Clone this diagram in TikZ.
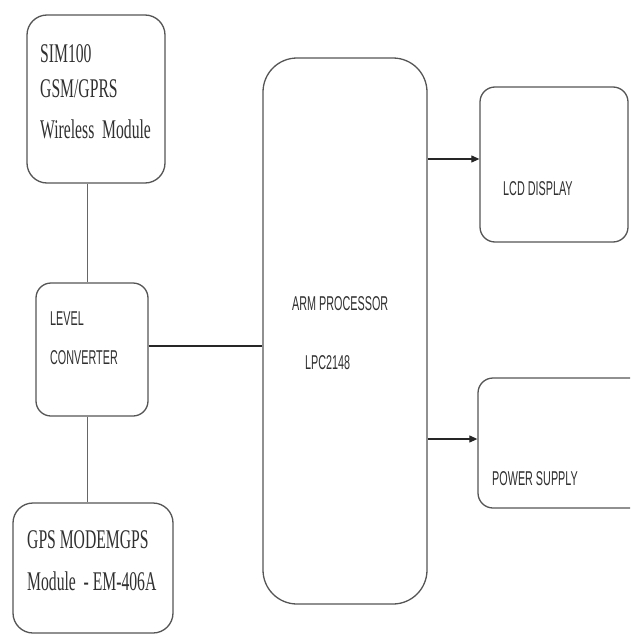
\documentclass[tikz,border=0pt]{standalone}
\usepackage{fontspec}
\newfontfamily\narrowserif[FakeStretch=0.58]{Liberation Serif}
\newfontfamily\narrowsans[FakeStretch=0.54]{Liberation Sans}
\usetikzlibrary{arrows.meta}
\definecolor{edge}{HTML}{555555}
\definecolor{ink}{HTML}{303030}
\tikzset{
  blk/.style={draw=edge, line width=1.3pt, fill=white, inner sep=0pt, rectangle},
  sertxt/.style={anchor=base west, inner sep=0pt, text=ink, font=\narrowserif\fontsize{27}{30}\selectfont},
  sanstxt/.style={anchor=base west, inner sep=0pt, text=ink, font=\narrowsans\fontsize{20}{24}\selectfont},
  wire/.style={draw=black!85, line width=1.1pt},
  vwire/.style={draw=black!60, line width=0.9pt},
  arr/.style={wire, -{Triangle[length=8pt,width=7pt]}}
}
\begin{document}
\begin{tikzpicture}[x=1pt,y=-1pt]
\useasboundingbox (0,0) rectangle (630,637);
\clip (0,0) rectangle (630,637);
% boxes
\node[blk, rounded corners=20pt, minimum width=138pt, minimum height=168pt] (sim) at (96,99) {};
\node[blk, rounded corners=15pt, minimum width=112pt, minimum height=133pt] (conv) at (92,349.5) {};
\node[blk, rounded corners=20pt, minimum width=160pt, minimum height=130pt] (gps) at (93,568) {};
\node[blk, rounded corners=34pt, minimum width=164pt, minimum height=546pt] (arm) at (345,331) {};
\node[blk, rounded corners=15pt, minimum width=148pt, minimum height=155pt] (lcd) at (554,164.5) {};
\node[blk, rounded corners=15pt, minimum width=172pt, minimum height=130pt] (pwr) at (564,443) {};
% texts
\node[sertxt] (t1) at (40,62) {SIM100};
\node[sertxt] (t2) at (40,97) {GSM/GPRS};
\node[sertxt] (t3) at (40,138) {Wireless\ \ Module};
\node[sanstxt] (t4) at (50,325) {LEVEL};
\node[sanstxt] (t5) at (50,364) {CONVERTER};
\node[sertxt] (t6) at (27,548) {GPS MODEMGPS};
\node[sertxt] (t7) at (27,590) {Module\ \ - EM-406A};
\node[sanstxt] (t8) at (292,310) {ARM PROCESSOR};
\node[sanstxt] (t9) at (305,369) {LPC2148};
\node[sanstxt] (t10) at (503,195) {LCD DISPLAY};
\node[sanstxt] (t11) at (492,485) {POWER SUPPLY};
% connectors
\coordinate (vx) at (87,0);
\draw[vwire] (sim.south -| vx) -- (conv.north -| vx);
\draw[vwire] (conv.south -| vx) -- (gps.north -| vx);
\coordinate (hy) at (0,346);
\draw[wire] (conv.east |- hy) -- (arm.west |- hy);
\coordinate (ay) at (0,159);
\draw[arr] (arm.east |- ay) -- (lcd.west |- ay);
\coordinate (by) at (0,439);
\draw[arr] (arm.east |- by) -- (pwr.west |- by);
\end{tikzpicture}
\end{document}
